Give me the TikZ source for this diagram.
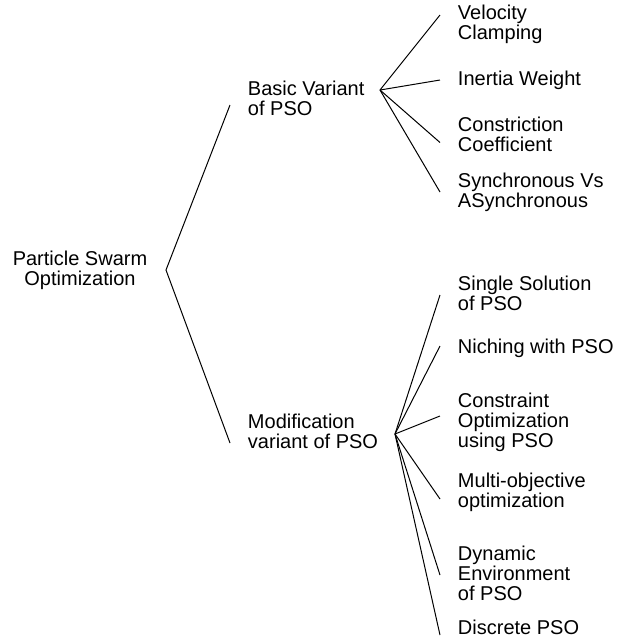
\documentclass[tikz,border=0pt]{standalone}
\usepackage{fontspec}
\setmainfont{Liberation Sans}
\usepackage{tikz}
\usetikzlibrary{positioning}

\tikzset{
  label/.style={anchor=west, align=left, inner sep=0pt, outer xsep=9pt, font=\fontsize{10}{10}\selectfont},
  branch/.style={line width=0.5pt}
}

\begin{document}
\begin{tikzpicture}[x=0.5pt, y=-0.5pt]
      \useasboundingbox (0, 0) rectangle (631, 639);

      % root
      \node[align=center, inner sep=0pt, font=\fontsize{10}{10}\selectfont] (pso) at (80, 270) {Particle Swarm\\Optimization};
      \coordinate (psohub) at (166, 270);

      % second level
      \node[label] (basic) at (230, 98) {Basic Variant\\of PSO};
      \node[label] (modif) at (230, 431) {Modification\\variant of PSO};
      \coordinate (basichub) at (380, 90);
      \coordinate (modifhub) at (395, 434);

      % leaves of basic variant
      \node[label] (velo) at (440, 24) {Velocity\\Clamping};
      \node[label] (inert) at (440, 80) {Inertia Weight};
      \node[label] (constr) at (440, 134) {Constriction\\Coefficient};
      \node[label] (sync) at (440, 192) {Synchronous Vs\\ASynchronous};

      % leaves of modification variant
      \node[label] (single) at (440, 293) {Single Solution\\of PSO};
      \node[label] (nich) at (440, 348) {Niching with PSO};
      \node[label] (copt) at (440, 422) {Constraint\\Optimization\\using PSO};
      \node[label] (multi) at (440, 492) {Multi-objective\\optimization};
      \node[label] (dyn) at (440, 573) {Dynamic\\Environment\\of PSO};
      \node[label] (disc) at (440, 627) {Discrete PSO};

      \draw[branch] ([yshift=-3.5pt]basic.west) -- (psohub) -- ([yshift=-6pt]modif.west);

      \draw[branch] (basichub) -- ([yshift=4.5pt]velo.west);
      \draw[branch] (basichub) -- (inert.west);
      \draw[branch] (basichub) -- ([yshift=-4.25pt]constr.west);
      \draw[branch] (basichub) -- (sync.west);

      \draw[branch] (modifhub) -- ([yshift=-1pt]single.west);
      \draw[branch] (modifhub) -- ([yshift=1pt]nich.west);
      \draw[branch] (modifhub) -- ([yshift=3pt]copt.west);
      \draw[branch] (modifhub) -- ([yshift=-3.5pt]multi.west);
      \draw[branch] (modifhub) -- ([yshift=-1pt]dyn.west);
      \draw[branch] (modifhub) -- ([yshift=-4pt]disc.west);
\end{tikzpicture}
\end{document}
